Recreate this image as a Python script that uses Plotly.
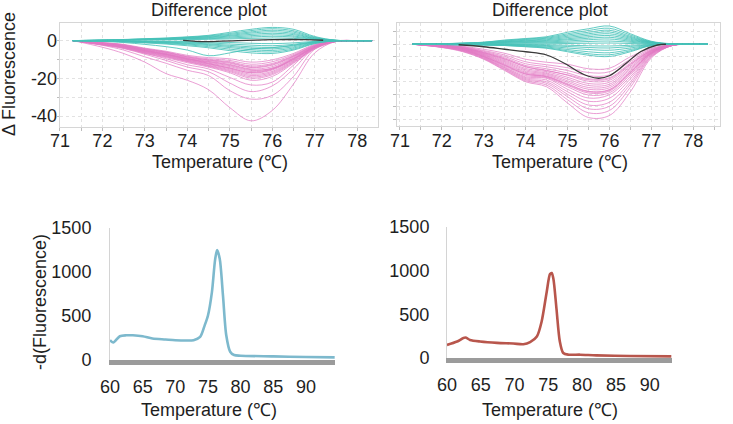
import plotly.graph_objects as go

# ---------------- data ----------------
T_DIFF = [71.3, 72.0, 72.5, 73.0, 73.5, 74.0, 74.5, 75.0, 75.5, 76.0, 76.5, 77.0, 77.5, 78.0, 78.35]

left_pink = [
    [0, -3.5, -6.8, -11.4, -17.5, -21.0, -26.0, -35.5, -42.5, -37.0, -23.0, -6.5, -0.4, 0, 0],
    [0, -2.5, -5.0, -8.6, -12.0, -15.7, -18.5, -26.5, -31.0, -29.0, -19.0, -4.5, -0.3, 0, 0],
    [0, -2.2, -4.2, -7.2, -10.5, -14.0, -16.5, -22.5, -27.0, -24.0, -15.0, -3.8, -0.2, 0, 0],
    [0, -2.0, -3.8, -6.6, -9.6, -12.8, -15.0, -19.5, -23.5, -22.0, -13.0, -3.2, -0.2, 0, 0],
    [0, -1.0, -2.0, -4.0, -5.6, -7.8, -9.0, -9.6, -11.4, -10.2, -6.8, -2.0, -0.2, 0, 0],
    [0, -1.2, -2.3, -4.3, -6.0, -8.3, -9.6, -10.5, -12.5, -11.2, -7.4, -2.3, -0.2, 0, 0],
    [0, -1.3, -2.5, -4.6, -6.3, -8.6, -10.1, -11.2, -13.4, -12.1, -7.9, -2.6, -0.3, 0, 0],
    [0, -1.4, -2.6, -4.8, -6.6, -9.0, -10.6, -12.0, -14.3, -13.0, -8.4, -2.8, -0.3, 0, 0],
    [0, -1.5, -2.8, -5.0, -6.9, -9.3, -11.0, -12.6, -15.0, -13.8, -8.8, -3.0, -0.3, 0, 0],
    [0, -1.5, -2.9, -5.2, -7.1, -9.6, -11.5, -13.3, -15.8, -14.5, -9.2, -3.1, -0.3, 0, 0],
    [0, -1.6, -3.0, -5.4, -7.4, -9.9, -11.9, -13.8, -16.4, -15.0, -9.6, -3.3, -0.3, 0, 0],
    [0, -1.7, -3.1, -5.6, -7.6, -10.2, -12.3, -14.4, -17.1, -15.6, -10.0, -3.5, -0.4, 0, 0],
    [0, -1.8, -3.3, -5.8, -7.9, -10.4, -12.6, -14.9, -17.8, -16.3, -10.4, -3.6, -0.4, 0, 0],
    [0, -1.9, -3.4, -6.0, -8.1, -10.7, -13.0, -15.4, -18.5, -16.9, -10.8, -3.8, -0.4, 0, 0],
    [0, -2.0, -3.6, -6.2, -8.4, -11.0, -13.3, -15.9, -19.2, -17.5, -11.2, -4.0, -0.4, 0, 0],
    [0, -2.1, -3.7, -6.4, -8.6, -11.2, -13.6, -16.4, -19.9, -18.1, -11.6, -4.2, -0.5, 0, 0],
    [0, -2.3, -4.0, -6.8, -9.0, -11.7, -14.0, -17.0, -21.0, -19.0, -12.0, -4.5, -0.5, 0, 0],
    [0, -1.4, -2.7, -5.1, -7.3, -9.8, -11.2, -12.9, -15.4, -14.8, -9.5, -3.4, -0.3, 0, 0],
    [0, -1.7, -3.2, -5.5, -7.2, -9.5, -12.1, -14.6, -16.9, -15.2, -9.9, -3.2, -0.3, 0, 0],
    [0, -1.1, -2.2, -4.4, -6.1, -8.7, -10.3, -11.6, -14.0, -12.6, -8.2, -2.6, -0.2, 0, 0],
]

left_cyan = [
    [0, 0.3, 0.6, 1.0, 1.4, 2.0, 2.8, 4.4, 6.0, 7.0, 6.0, 2.2, 0.2, 0, 0],
    [0, 0.3, 0.5, 0.9, 1.2, 1.8, 2.5, 3.8, 5.3, 6.3, 5.2, 1.8, 0.2, 0, 0],
    [0, 0.2, 0.5, 0.8, 1.1, 1.6, 2.2, 3.3, 4.6, 5.5, 4.5, 1.5, 0.1, 0, 0],
    [0, 0.2, 0.4, 0.7, 1.0, 1.4, 1.9, 2.8, 4.0, 4.7, 3.8, 1.2, 0.1, 0, 0],
    [0, 0.2, 0.3, 0.6, 0.8, 1.2, 1.6, 2.4, 3.3, 3.9, 3.2, 1.0, 0.1, 0, 0],
    [0, 0.1, 0.3, 0.5, 0.7, 1.0, 1.3, 1.9, 2.6, 3.1, 2.5, 0.8, 0.1, 0, 0],
    [0, 0.1, 0.2, 0.4, 0.5, 0.8, 1.0, 1.4, 1.9, 2.3, 1.9, 0.6, 0, 0, 0],
    [0, 0.1, 0.2, 0.3, 0.4, 0.5, 0.7, 0.9, 1.2, 1.4, 1.2, 0.4, 0, 0, 0],
    [0, -0.1, -0.2, -0.3, -0.4, -0.5, -0.7, -1.0, -1.4, -1.6, -1.2, -0.4, 0, 0, 0],
    [0, -0.1, -0.3, -0.5, -0.6, -0.9, -1.2, -1.8, -2.4, -2.7, -2.0, -0.6, 0, 0, 0],
    [0, -0.2, -0.4, -0.6, -0.8, -1.2, -1.7, -2.5, -3.3, -3.6, -2.7, -0.8, 0, 0, 0],
    [0, -0.2, -0.4, -0.7, -1.0, -1.5, -2.1, -3.1, -4.0, -4.4, -3.3, -1.0, -0.1, 0, 0],
    [0, -0.2, -0.5, -0.8, -1.2, -1.8, -2.6, -3.7, -4.8, -5.2, -3.9, -1.2, -0.1, 0, 0],
    [0, -0.3, -0.6, -1.0, -1.5, -2.2, -3.2, -4.5, -5.6, -6.0, -4.5, -1.4, -0.1, 0, 0],
    [0, -0.3, -0.7, -1.2, -1.8, -2.7, -3.8, -5.3, -6.5, -6.8, -5.0, -1.6, -0.1, 0, 0],
    [0, -0.4, -1.0, -2.0, -3.2, -5.0, -8.0, -6.5, -4.5, -3.8, -2.4, -0.7, 0, 0, 0],
]

left_black_t = [73.9, 74.2, 74.5, 74.8, 75.2, 75.6, 76.0, 76.4, 76.8, 77.2]
left_black_v = [0.1, -0.4, -0.5, -0.3, 0.0, 0.3, 0.5, 0.6, 0.5, 0.2]

right_pink = [
    [0, -0.3, -0.8, -2.0, -3.6, -6.0, -7.2, -8.0, -9.8, -9.6, -5.0, -1.6, -0.2, 0, 0],
    [0, -0.4, -1.0, -2.5, -4.3, -7.0, -8.2, -9.4, -11.3, -11.0, -6.0, -1.9, -0.2, 0, 0],
    [0, -0.4, -1.1, -2.8, -4.9, -7.8, -9.0, -10.5, -12.6, -12.3, -6.9, -2.2, -0.2, 0, 0],
    [0, -0.5, -1.3, -3.1, -5.4, -8.5, -9.8, -11.5, -13.8, -13.4, -7.6, -2.4, -0.3, 0, 0],
    [0, -0.5, -1.4, -3.4, -5.9, -9.1, -10.4, -12.4, -14.8, -14.4, -8.3, -2.6, -0.3, 0, 0],
    [0, -0.6, -1.5, -3.6, -6.3, -9.7, -11.0, -13.2, -15.7, -15.2, -8.9, -2.8, -0.3, 0, 0],
    [0, -0.6, -1.6, -3.8, -6.7, -10.2, -11.5, -13.9, -16.5, -16.0, -9.5, -3.0, -0.3, 0, 0],
    [0, -0.7, -1.7, -4.0, -7.1, -10.7, -11.9, -14.6, -17.3, -16.7, -10.0, -3.1, -0.3, 0, 0],
    [0, -0.7, -1.8, -4.2, -7.5, -11.2, -12.3, -15.2, -18.0, -17.4, -10.6, -3.3, -0.4, 0, 0],
    [0, -0.8, -1.9, -4.4, -7.9, -11.6, -12.7, -15.8, -18.8, -18.1, -11.1, -3.4, -0.4, 0, 0],
    [0, -0.8, -2.0, -4.6, -8.2, -12.0, -13.0, -16.4, -19.5, -18.7, -11.6, -3.6, -0.4, 0, 0],
    [0, -0.9, -2.1, -4.8, -8.6, -12.5, -13.3, -17.0, -20.3, -19.4, -12.2, -3.8, -0.4, 0, 0],
    [0, -1.0, -2.3, -5.0, -9.0, -13.0, -13.6, -18.0, -21.5, -20.2, -13.0, -4.0, -0.5, 0, 0],
    [0, -1.0, -2.4, -5.2, -9.3, -13.4, -14.3, -19.0, -22.8, -21.6, -13.9, -4.2, -0.5, 0, 0],
    [0, -1.1, -2.5, -5.4, -9.6, -13.8, -15.0, -20.0, -24.3, -23.2, -15.0, -4.5, -0.5, 0, 0],
    [0, -1.2, -2.7, -5.6, -9.9, -14.2, -15.6, -21.0, -25.8, -24.8, -16.0, -4.8, -0.5, 0, 0],
    [0, -1.2, -2.8, -5.8, -10.2, -14.6, -16.3, -22.2, -27.4, -26.5, -17.2, -5.1, -0.5, 0, 0],
    [0, -1.3, -3.0, -6.0, -10.5, -15.0, -17.0, -23.5, -29.3, -28.5, -19.0, -5.5, -0.5, 0, 0],
    [0, -0.6, -1.4, -3.3, -5.8, -8.9, -10.6, -12.2, -14.2, -13.8, -8.0, -2.6, -0.3, 0, 0],
    [0, -0.9, -2.2, -4.9, -8.4, -11.9, -12.9, -16.1, -19.0, -18.3, -11.4, -3.5, -0.4, 0, 0],
]

right_cyan = [
    [0, 0.2, 0.5, 0.8, 1.7, 2.3, 3.0, 4.8, 6.2, 7.3, 4.2, 1.2, 0.2, 0, 0],
    [0, 0.2, 0.4, 0.8, 1.5, 2.1, 2.7, 4.2, 5.5, 6.4, 3.7, 1.0, 0.1, 0, 0],
    [0, 0.2, 0.4, 0.7, 1.3, 1.9, 2.4, 3.7, 4.8, 5.6, 3.2, 0.9, 0.1, 0, 0],
    [0, 0.1, 0.3, 0.6, 1.1, 1.6, 2.1, 3.2, 4.2, 4.9, 2.8, 0.8, 0.1, 0, 0],
    [0, 0.1, 0.3, 0.5, 1.0, 1.4, 1.8, 2.7, 3.6, 4.2, 2.4, 0.7, 0.1, 0, 0],
    [0, 0.1, 0.3, 0.5, 0.8, 1.2, 1.5, 2.2, 3.0, 3.5, 2.0, 0.6, 0.1, 0, 0],
    [0, 0.1, 0.2, 0.4, 0.7, 1.0, 1.2, 1.8, 2.4, 2.8, 1.6, 0.5, 0, 0, 0],
    [0, 0.1, 0.2, 0.3, 0.5, 0.7, 0.9, 1.3, 1.8, 2.1, 1.2, 0.4, 0, 0, 0],
    [0, 0.1, 0.1, 0.2, 0.3, 0.5, 0.6, 0.8, 1.1, 1.3, 0.8, 0.2, 0, 0, 0],
    [0, 0, 0.1, 0.1, 0.1, 0.2, 0.2, 0.3, 0.4, 0.5, 0.3, 0.1, 0, 0, 0],
    [0, 0, 0, 0, -0.1, -0.1, -0.2, -0.4, -0.6, -0.7, -0.4, -0.1, 0, 0, 0],
    [0, 0, -0.1, -0.1, -0.2, -0.3, -0.5, -0.9, -1.3, -1.5, -0.9, -0.2, 0, 0, 0],
    [0, -0.1, -0.1, -0.2, -0.3, -0.5, -0.8, -1.5, -2.1, -2.4, -1.5, -0.3, 0, 0, 0],
    [0, -0.1, -0.2, -0.2, -0.4, -0.7, -1.1, -2.1, -3.0, -3.4, -2.1, -0.4, 0, 0, 0],
    [0, -0.1, -0.2, -0.3, -0.5, -0.9, -1.4, -2.6, -3.8, -4.2, -2.6, -0.5, 0, 0, 0],
    [0, -0.1, -0.3, -0.3, -0.5, -1.0, -1.6, -3.0, -4.4, -4.9, -3.0, -0.5, 0, 0, 0],
]

right_black_t = [72.4, 73.0, 73.5, 74.0, 74.5, 75.0, 75.25, 75.5, 75.75, 76.0, 76.4, 76.75, 77.15, 77.35]
right_black_v = [-0.2, -1.0, -2.0, -3.0, -4.3, -8.3, -10.9, -12.8, -13.6, -12.6, -7.6, -2.9, -0.3, 0]

melt1_t = [60, 60.5, 61.5, 62.5, 63.5, 65, 66.5, 68.5, 70, 71.5, 72.8, 73.8, 74.5, 75, 75.6,
           76.1, 76.4, 76.8, 77.3, 77.8, 78.4, 79, 80, 85, 90, 94.4]
melt1_v = [225, 199, 270, 281, 281, 270, 244, 233, 225, 221, 225, 262, 394, 506, 769,
           1144, 1249, 1150, 731, 281, 94, 56, 49, 41, 34, 30]

melt2_t = [60, 61.5, 62.7, 63.4, 64.9, 67.4, 69.8, 71.3, 72.3, 73.3, 74, 74.75, 75.25, 75.5,
           75.75, 76.2, 76.7, 77.2, 78, 79.7, 82.1, 87, 93.2]
melt2_v = [150, 189, 234, 207, 189, 173, 166, 158, 181, 245, 415, 754, 961, 973,
           905, 566, 189, 57, 38, 38, 30, 23, 19]

diff_x_ticks = [71, 71.5, 72, 72.5, 73, 73.5, 74, 74.5, 75, 75.5, 76, 76.5, 77, 77.5, 78, 78.5]
diff_x_text = ["71", "", "72", "", "73", "", "74", "", "75", "", "76", "", "77", "", "78", ""]
left_y_ticks = [0, -10, -20, -30, -40]
left_y_text = ["0", "", "-20", "", "-40"]
right_y_ticks = [5, 0, -5, -10, -15, -20, -25, -30]
melt_x_ticks = [60, 65, 70, 75, 80, 85, 90]
melt_y_ticks = [0, 500, 1000, 1500]

# ---------------- styling ----------------
W, H = 733, 424
FONT = "Liberation Sans, Arial, sans-serif"
TXT = "#1e1e1e"
FS = 18
PINK = "rgba(226,120,196,0.72)"
CYAN = "rgba(70,194,184,0.85)"
BLACK = "#3a3a3a"


def px(x):
    return x / W


def py(y):
    return 1 - y / H


def dx(a, b):
    return [px(a), px(b)]


def dy(top, bottom):
    return [py(bottom), py(top)]


fig = go.Figure()


def add_lines(curves, color, xa, ya):
    for c in curves:
        fig.add_trace(go.Scatter(x=T_DIFF, y=c, mode="lines", xaxis=xa, yaxis=ya,
                                 line=dict(color=color, width=1, shape="spline", smoothing=1.0),
                                 hoverinfo="skip", showlegend=False))


add_lines(left_pink, PINK, "x", "y")
add_lines(left_cyan, CYAN, "x", "y")
fig.add_trace(go.Scatter(x=left_black_t, y=left_black_v, mode="lines", xaxis="x", yaxis="y",
                         line=dict(color=BLACK, width=1.3, shape="spline"), showlegend=False))
add_lines(right_pink, PINK, "x2", "y2")
add_lines(right_cyan, CYAN, "x2", "y2")
fig.add_trace(go.Scatter(x=right_black_t, y=right_black_v, mode="lines", xaxis="x2", yaxis="y2",
                         line=dict(color=BLACK, width=1.3, shape="spline"), showlegend=False))

fig.add_trace(go.Scatter(x=melt1_t, y=melt1_v, mode="lines", xaxis="x3", yaxis="y3",
                         line=dict(color="#7db9cd", width=2.6, shape="spline", smoothing=0.8),
                         showlegend=False))
fig.add_trace(go.Scatter(x=melt2_t, y=melt2_v, mode="lines", xaxis="x4", yaxis="y4",
                         line=dict(color="#b8564c", width=2.6, shape="spline", smoothing=0.8),
                         showlegend=False))

tf = dict(family=FONT, size=FS, color=TXT)
grid = dict(showgrid=True, gridcolor="#e2e2e2", griddash="dot", gridwidth=1, zeroline=False,
            showline=True, linecolor="#d6d6d6", linewidth=1, mirror=True, automargin=False,
            tickfont=tf)
plain = dict(showgrid=False, zeroline=False, showline=True, ticks="", automargin=False,
             tickfont=tf, tickmode="array")

fig.update_layout(
    width=W, height=H, margin=dict(l=0, r=0, t=0, b=0, autoexpand=False),
    paper_bgcolor="white", plot_bgcolor="white", showlegend=False,
    font=dict(family=FONT, size=FS, color=TXT),
    xaxis=dict(domain=dx(59.5, 378), range=[70.99, 78.49], anchor="y",
               tickmode="array", tickvals=diff_x_ticks, ticktext=diff_x_text,
               ticks="outside", ticklen=3, tickcolor="#bdbdbd", ticklabelstandoff=-5, **grid),
    yaxis=dict(domain=dy(22.5, 126.5), range=[-45.5, 9.6], anchor="x",
               tickmode="array", tickvals=left_y_ticks, ticktext=left_y_text,
               ticks="outside", ticklen=2, tickcolor="#bdbdbd", ticklabelstandoff=-4, **grid),
    xaxis2=dict(domain=dx(397, 720), range=[70.93, 78.64], anchor="y2",
                tickmode="array", tickvals=diff_x_ticks, ticktext=diff_x_text,
                ticks="outside", ticklen=3, tickcolor="#bdbdbd", ticklabelstandoff=-5, **grid),
    yaxis2=dict(domain=dy(22.5, 126), range=[-32.7, 8.7], anchor="x2",
                tickmode="array", tickvals=right_y_ticks, ticktext=[""] * len(right_y_ticks),
                ticks="outside", ticklen=3, tickcolor="#bdbdbd", **grid),
    xaxis3=dict(domain=dx(110, 335), range=[60, 94.45], anchor="y3", tickvals=melt_x_ticks,
                linecolor="#9b9b9b", linewidth=5, ticklabelstandoff=6, **plain),
    yaxis3=dict(domain=dy(228, 360), range=[0, 1500], anchor="x3", tickvals=melt_y_ticks,
                linecolor="#d4d4d4", linewidth=1, ticklabelstandoff=14, **plain),
    xaxis4=dict(domain=dx(447, 672), range=[60, 93.3], anchor="y4", tickvals=melt_x_ticks,
                linecolor="#9b9b9b", linewidth=5, ticklabelstandoff=6, **plain),
    yaxis4=dict(domain=dy(227, 358), range=[0, 1500], anchor="x4", tickvals=melt_y_ticks,
                linecolor="#d4d4d4", linewidth=1, ticklabelstandoff=13, **plain),
)


def label(text, x, y, angle=0, size=FS):
    fig.add_annotation(text=text, x=px(x), y=py(y), xref="paper", yref="paper",
                       xanchor="center", yanchor="middle", showarrow=False, textangle=angle,
                       font=dict(family=FONT, size=size, color=TXT))


label("Difference plot", 209, 10)
label("Difference plot", 550, 10)
label("Temperature (℃)", 220, 162)
label("Temperature (℃)", 560, 162)
label("Temperature (℃)", 209, 410)
label("Temperature (℃)", 550, 410)
label("Δ Fluorescence", 9, 74, angle=-90)
label("-d(Fluorescence)", 40, 302, angle=-90)

# the page body has a default 8px margin; remove it so the figure sits at the window corner
fig.write_html("out.html", config={"displayModeBar": False},
               post_script="document.body.style.margin='0';")
